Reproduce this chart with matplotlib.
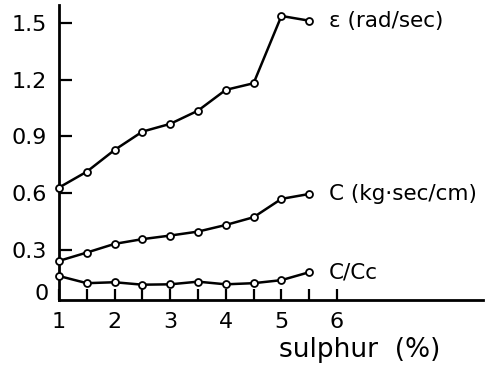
import numpy as np
import matplotlib
matplotlib.use("Agg")
import matplotlib.pyplot as plt

# sulphur content (%)
sulphur = [1.0, 1.5, 2.0, 2.5, 3.0, 3.5, 4.0, 4.5, 5.0, 5.5]

# epsilon (rad/sec)
eps = [0.629, 0.713, 0.828, 0.925, 0.966, 1.036, 1.146, 1.181, 1.537, 1.512]
# C (kg.sec/cm)
c_val = [0.241, 0.285, 0.331, 0.356, 0.375, 0.396, 0.431, 0.472, 0.569, 0.595]
# C/Cc
c_ratio = [0.161, 0.123, 0.128, 0.115, 0.117, 0.131, 0.117, 0.123, 0.139, 0.181]

y_ticks = [0.3, 0.6, 0.9, 1.2, 1.5]
y_labels = ["0.3", "0.6", "0.9", "1.2", "1.5"]
x_ticks = [1, 2, 3, 4, 5, 6]
x_minor = [1.5, 2.5, 3.5, 4.5, 5.5]

series = [
    (eps, "\u03b5 (rad/sec)"),
    (c_val, "C (kg\u00b7sec/cm)"),
    (c_ratio, "C/Cc"),
]

fig = plt.figure(figsize=(4.89, 3.69), dpi=100)
ax = fig.add_axes([59 / 489, 1 - 300 / 369, (483 - 59) / 489, 295 / 369])

for ys, label in series:
    ax.plot(sulphur, ys, color="black", lw=1.8, marker="o", ms=5,
            mfc="white", mec="black", mew=1.3, clip_on=False, zorder=3)
    ax.annotate(label, (sulphur[-1], ys[-1]), xytext=(14, 0),
                textcoords="offset points", va="center", ha="left", fontsize=15.5)

ax.set_xlim(1, 1 + (483 - 59) / 55.6)
ax.set_ylim(0.034, 1.595)

ax.spines["top"].set_visible(False)
ax.spines["right"].set_visible(False)
ax.spines["left"].set_linewidth(2)
ax.spines["bottom"].set_linewidth(2)

ax.set_xticks(x_ticks)
ax.set_xticks(x_minor, minor=True)
ax.tick_params(axis="x", which="both", direction="in", length=8, width=1.6,
               labelsize=16, pad=9)
ax.set_yticks(y_ticks)
ax.set_yticklabels(y_labels)
ax.tick_params(axis="y", direction="in", length=9, width=1.6, labelsize=16, pad=9)

ax.text(-0.025, 0.065, "0", transform=ax.get_yaxis_transform(), ha="right",
        va="center", fontsize=16)

ax.text(0.71, -0.17, "sulphur  (%)", transform=ax.transAxes, ha="center",
        va="center", fontsize=19)

fig.savefig("out.png", dpi=100)
